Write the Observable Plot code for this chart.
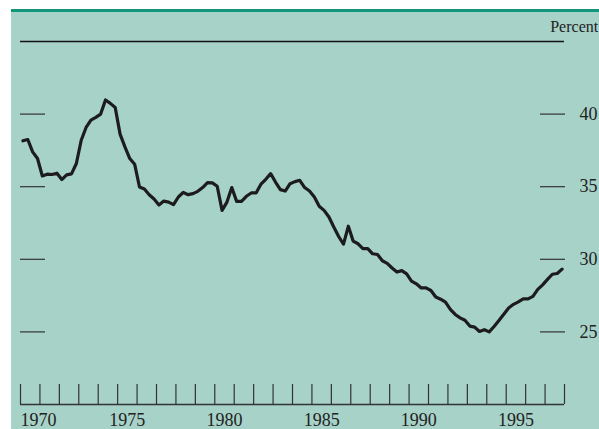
<!DOCTYPE html>
<html><head><meta charset="utf-8">
<script src="https://cdn.jsdelivr.net/npm/d3@7"></script>
<script src="https://cdn.jsdelivr.net/npm/@observablehq/plot@0.6"></script>
<style>
html,body{margin:0;padding:0;background:#fff;}
#wrap{position:relative;width:599px;height:429px;overflow:hidden;}
#bg{position:absolute;left:11px;top:9px;right:0;bottom:0;background:#a7d2c8;border-top:3px solid #12967a;}
#chart{position:absolute;left:0;top:0;}
</style></head><body>
<div id="wrap"><div id="bg"></div><div id="chart"></div></div>
<script>
// Quarterly values, 1970Q1 .. 1997Q4 (percent)
const startYear = 1970;
const values = [
  38.16, 38.25, 37.4, 36.94, 35.74, 35.86, 35.84, 35.93,
  35.49, 35.81, 35.88, 36.6, 38.2, 39.08, 39.59, 39.77,
  40.0, 40.97, 40.74, 40.46, 38.62, 37.74, 36.94, 36.55,
  34.98, 34.84, 34.45, 34.15, 33.74, 34.01, 33.94, 33.76,
  34.29, 34.61, 34.45, 34.52, 34.68, 34.94, 35.28, 35.26,
  35.03, 33.37, 33.94, 34.94, 33.99, 33.99, 34.34, 34.57,
  34.57, 35.17, 35.51, 35.9, 35.32, 34.8, 34.7, 35.21,
  35.35, 35.44, 34.94, 34.7, 34.29, 33.65, 33.37, 32.91,
  32.22, 31.57, 31.05, 32.28, 31.25, 31.07, 30.73, 30.73,
  30.38, 30.33, 29.9, 29.72, 29.4, 29.12, 29.22, 29.0,
  28.5, 28.31, 28.03, 28.03, 27.85, 27.4, 27.25, 27.05,
  26.55, 26.2, 25.97, 25.8, 25.4, 25.33, 25.03, 25.15,
  25.0, 25.37, 25.78, 26.22, 26.65, 26.9, 27.07, 27.27,
  27.27, 27.45, 27.93, 28.24, 28.62, 28.97, 29.02, 29.32
];
const yTicks = [25, 30, 35, 40];
const yearTicks = d3.range(1970, 1999);
const yearLabels = [1970, 1975, 1980, 1985, 1990, 1995];
const unitLabel = "Percent";

const data = values.map((v, i) => ({date: startYear + (i + 0.5) / 4, value: v}));

const font = "'Liberation Serif', 'Times New Roman', serif";
const ink = "#222";

const chart = Plot.plot({
  width: 599, height: 429,
  marginTop: 41, marginBottom: 25, marginLeft: 20, marginRight: 35,
  style: {background: "transparent", fontFamily: font, color: ink, overflow: "visible"},
  x: {domain: [1970, 1998], axis: null},
  y: {domain: [20, 45], axis: null},
  marks: [
    Plot.ruleY([45], {stroke: "#111", strokeWidth: 1.4}),
    Plot.axisY({anchor: "left", ticks: yTicks, tickSize: 25, dx: 25, tickFormat: () => "", label: null, stroke: "#333", strokeWidth: 1.2}),
    Plot.axisY({anchor: "right", ticks: yTicks, tickSize: 25, dx: -25, tickPadding: 15, fontSize: 18, label: null, stroke: "#333", fill: ink, strokeWidth: 1.2}),
    Plot.axisX({anchor: "bottom", ticks: yearTicks, tickSize: 20, dy: -20, tickFormat: () => "", label: null, stroke: "#333", strokeWidth: 1.2}),
    Plot.ruleY([20], {stroke: "#333", strokeWidth: 1.3}),
    Plot.text(yearLabels.filter(d => d !== 1970), {x: d => d + 0.5, text: d => String(d), frameAnchor: "bottom", lineAnchor: "bottom", dy: 21, fontSize: 18, fill: ink}),
    Plot.text(yearLabels.filter(d => d === 1970), {x: d => d, text: d => String(d), frameAnchor: "bottom", textAnchor: "start", lineAnchor: "bottom", dy: 21, fontSize: 18, fill: ink}),
    Plot.text([unitLabel], {frameAnchor: "top-right", textAnchor: "end", lineAnchor: "bottom", dx: 33.7, dy: -9.5, fontSize: 16, fill: ink}),
    Plot.line(data, {x: "date", y: "value", stroke: "#1c1c1c", strokeWidth: 3.2, strokeLinejoin: "round"})
  ]
});
document.getElementById("chart").appendChild(chart);
</script>
</body></html>
